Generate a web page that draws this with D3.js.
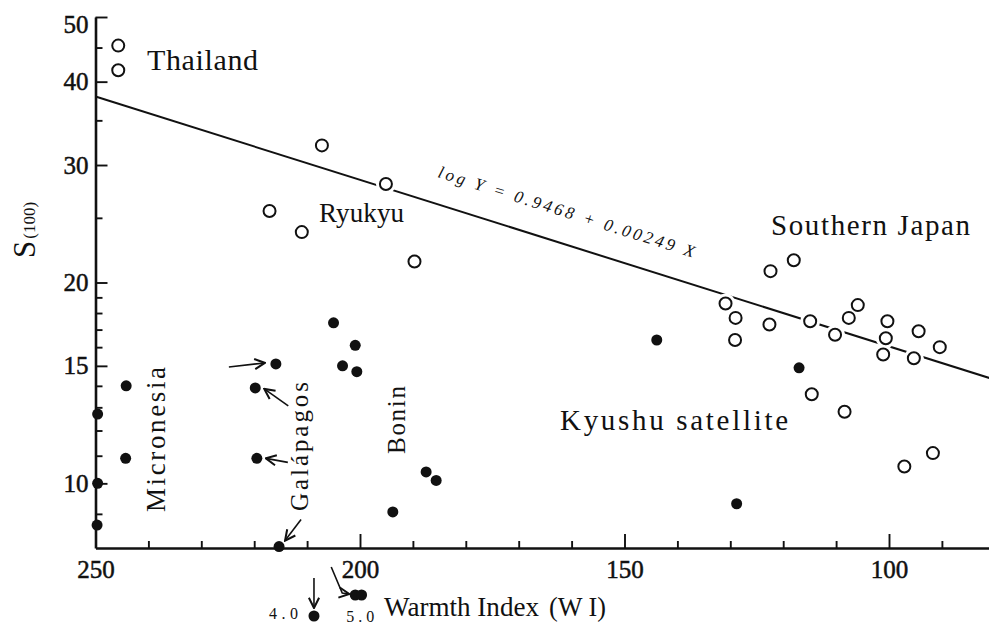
<!DOCTYPE html>
<html>
<head>
<meta charset="utf-8">
<script src="https://cdn.jsdelivr.net/npm/d3@7"></script>
<style>
body{margin:0;background:#fff}
text{font-family:"Liberation Serif","DejaVu Serif",serif;fill:#111}
</style>
</head>
<body>
<svg id="chart" width="989" height="628"></svg>
<script>
// open circles : [WI, S(100)]
const thailand=[[245.7,45.3],[245.7,41.6]];
const ryukyu=[[207.2,32.1],[195.1,28.1],[217.1,25.6],[211,23.8],[189.7,21.5]];
const southernJapan=[[122.4,20.8],[118,21.6],[130.9,18.6],[129,17.7],[129.1,16.4],[122.6,17.3],
	[114.9,17.5],[110.2,16.7],[107.6,17.7],[105.9,18.5],[100.3,17.5],[100.6,16.5],[101.1,15.6],
	[94.4,16.9],[95.3,15.4],[90.4,16.0],[114.6,13.6],[108.4,12.8],[97.1,10.6],[91.7,11.1]];
// filled dots
const micronesia=[[249.6,12.7],[249.6,10.0],[249.7,8.66],[244.2,14.0],[244.3,10.9]];
const galapagos=[[215.9,15.1],[219.8,13.9],[219.5,10.9],[215.3,8.04]];
const bonin=[[205,17.4],[200.9,16.1],[203.3,15.0],[200.6,14.7],[193.8,9.06],[187.5,10.4],[185.6,10.1]];
const kyushuSat=[[143.9,16.4],[117,14.9],[128.8,9.32]];
// values below the axis range, drawn under the axis
const offScale=[[208.7,4.0],[200.9,5.0],[199.7,5.0]];
const offLabels=["4.0","5.0"];
// regression line  log Y = 0.9468 + 0.00249 X
const fitLine=[[250,38.0],[80,14.3]];
const fitText="log Y = 0.9468 + 0.00249 X";

const xMajor=[250,200,150,100];
const xMinor=[240,230,220,210,190,180,170,160,140,130,120,110,90];
const yMajor=[10,15,20,30,40,50];
const yMinor=[9,11,12,13,14,16,17,18,19,25,35,45];

const svg=d3.select("#chart");
svg.append("rect").attr("width",989).attr("height",628).attr("fill","#fff");

let x=d3.scaleLinear().domain([250,80]).range([95.5,994.8]);
let y=d3.scaleLog().domain([8,50]).range([548,17]);
let yOff=d3.scaleLinear().domain([4,5]).range([616,595]);

// axes
let xa=svg.append("g").attr("transform","translate(0,548)")
	.call(d3.axisBottom(x).tickValues(xMajor).tickSize(-14).tickSizeOuter(0).tickPadding(12).tickFormat(d3.format("d")));
svg.append("g").attr("transform","translate(0,548)")
	.call(d3.axisBottom(x).tickValues(xMinor).tickSize(-7).tickSizeOuter(0).tickFormat(""))
	.select(".domain").remove();
let ya=svg.append("g").attr("transform","translate(95.5,0)")
	.call(d3.axisLeft(y).tickValues(yMajor).tickSize(-12).tickSizeOuter(0).tickPadding(7).tickFormat(d3.format("d")));
svg.append("g").attr("transform","translate(95.5,0)")
	.call(d3.axisLeft(y).tickValues(yMinor).tickSize(-7).tickSizeOuter(0).tickFormat(""))
	.select(".domain").remove();

svg.selectAll(".domain").attr("stroke","#111").attr("stroke-width",2.6);
svg.selectAll(".tick line").attr("stroke","#111").attr("stroke-width",1.9);
svg.selectAll(".tick text").attr("font-family","Liberation Serif").attr("font-size",25).attr("fill","#111")
	.attr("stroke","#111").attr("stroke-width",0.5);
ya.selectAll(".tick text").filter(d=>d===50).attr("y",7);

// regression line
svg.append("path")
	.datum(fitLine)
	.attr("d",d3.line().x(d=>x(d[0])).y(d=>y(d[1])))
	.attr("fill","none").attr("stroke","#111").attr("stroke-width",2);

svg.append("text")
	.attr("transform","translate(437,177) rotate(17.5)")
	.attr("font-family","Liberation Sans").attr("font-style","italic")
	.attr("font-size",17).attr("textLength",268).attr("lengthAdjust","spacing")
	.text(fitText);

let openPts=thailand.concat(ryukyu,southernJapan);
let filledPts=micronesia.concat(galapagos,bonin,kyushuSat);

// white halos give the gaps in the line around circles
svg.selectAll(".halo").data(openPts).enter().append("circle")
	.attr("cx",d=>x(d[0])).attr("cy",d=>y(d[1])).attr("r",10).attr("fill","#fff");
svg.selectAll(".open").data(openPts).enter().append("circle")
	.attr("cx",d=>x(d[0])).attr("cy",d=>y(d[1])).attr("r",6)
	.attr("fill","#fff").attr("stroke","#111").attr("stroke-width",2);
svg.selectAll(".filled").data(filledPts).enter().append("circle")
	.attr("cx",d=>x(d[0])).attr("cy",d=>y(d[1])).attr("r",5.5).attr("fill","#111");
svg.selectAll(".off").data(offScale).enter().append("circle")
	.attr("cx",d=>x(d[0])).attr("cy",d=>yOff(d[1])).attr("r",5.5).attr("fill","#111");

// arrows
svg.append("defs").append("marker").attr("id","ah")
	.attr("viewBox","0 0 10 10").attr("refX",9).attr("refY",5)
	.attr("markerWidth",8).attr("markerHeight",8).attr("orient","auto")
	.append("path").attr("d","M1,1 L9,5 L1,9").attr("fill","none").attr("stroke","#111").attr("stroke-width",1.6);

function arrow(pt,dx,dy,ex,ey){
	let cx=x(pt[0]),cy=y(pt[1]);
	svg.append("line").attr("x1",cx+dx).attr("y1",cy+dy).attr("x2",cx+ex).attr("y2",cy+ey)
		.attr("stroke","#111").attr("stroke-width",1.6).attr("marker-end","url(#ah)");
}
arrow(galapagos[0],-47,3,-11,-1);
arrow(galapagos[1],33,18,9,1);
arrow(galapagos[2],31,4,9,0);
arrow(galapagos[3],22,-27,6,-6);

// arrows to the off-scale points
let p4=[x(offScale[0][0]),yOff(offScale[0][1])];
svg.append("line").attr("x1",p4[0]).attr("y1",p4[1]-38).attr("x2",p4[0]).attr("y2",p4[1]-8)
	.attr("stroke","#111").attr("stroke-width",1.6).attr("marker-end","url(#ah)");
let p5=[x(offScale[1][0]),yOff(offScale[1][1])];
svg.append("path").attr("d","M"+(p5[0]-24)+","+(p5[1]-28)+" L"+(p5[0]-13)+","+(p5[1]-2)+" L"+(p5[0]-6)+","+(p5[1]-1))
	.attr("fill","none").attr("stroke","#111").attr("stroke-width",1.6).attr("marker-end","url(#ah)");

svg.append("text").attr("x",p4[0]-16).attr("y",p4[1]+3).attr("text-anchor","end")
	.attr("font-size",16).attr("textLength",29).attr("lengthAdjust","spacing").text(offLabels[0]);
svg.append("text").attr("x",p5[0]-9).attr("y",p5[1]+27)
	.attr("font-size",16).attr("textLength",28).attr("lengthAdjust","spacing").text(offLabels[1]);

// group labels
function label(t,px,py,size,len,rot,adj){
	let el=svg.append("text").attr("font-size",size).attr("textLength",len)
		.attr("lengthAdjust",adj||"spacing").text(t);
	if(rot){el.attr("transform","translate("+px+","+py+") rotate(-90)")}
	else{el.attr("x",px).attr("y",py)}
}
label("Thailand",147,70,30,111);
label("Ryukyu",319,222,27,85);
label("Southern Japan",771,235,29,199);
label("Kyushu satellite",560,430,29,228);
label("Micronesia",165,512,27,145,true);
label("Galápagos",308,511,25,129,true);
label("Bonin",405,454,25,68,true);
label("Warmth Index",384,616,27,155,false,"spacingAndGlyphs");
label("(W I)",549,616,27,57,false,"spacingAndGlyphs");

// y title
let yt=svg.append("text").attr("transform","translate(35,258) rotate(-90)");
yt.append("tspan").attr("font-size",31).text("S");
yt.append("tspan").attr("font-size",17).attr("dx",2).text("(100)");
</script>
</body>
</html>
